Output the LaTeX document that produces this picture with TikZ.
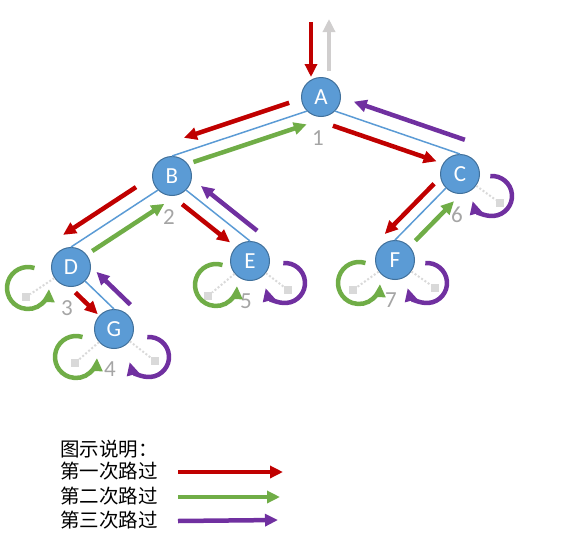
\documentclass[tikz,border=0pt]{standalone}
\usepackage{fontspec}
\usetikzlibrary{arrows.meta,calc,positioning}
\newfontfamily\calibri{Carlito}
\newfontfamily\cjk{Noto Sans CJK SC}
\definecolor{nodeblue}{HTML}{5B9BD5}
\definecolor{nodeline}{HTML}{41719C}
\definecolor{passred}{HTML}{C00000}
\definecolor{passgreen}{HTML}{70AD47}
\definecolor{passpurple}{HTML}{7030A0}
\definecolor{exitgray}{HTML}{D0CECE}
\definecolor{nullgray}{HTML}{D9D9D9}
\definecolor{numgray}{HTML}{A5A5A5}
\begin{document}
\begin{tikzpicture}[x=1pt,y=-1pt,
    vertex/.style={circle,fill=nodeblue,draw=nodeline,line width=1pt,
      minimum size=39pt,inner sep=0pt,text=white,
      font=\calibri\fontsize{23}{23}\selectfont},
    num/.style={inner sep=0pt,text=numgray,font=\calibri\fontsize{23}{23}\selectfont},
    nullbox/.style={fill=nullgray,minimum size=8pt,inner sep=0pt},
    nulledge/.style={nullgray,line width=2pt,dotted},
    pass/.style={line width=4.5pt,-{Triangle[length=13pt,width=12pt]}},
    firstpass/.style={pass,passred},
    secondpass/.style={pass,passgreen},
    thirdpass/.style={pass,passpurple},
    exitpass/.style={pass,exitgray},
    legend/.style={inner sep=0pt,anchor=west,font=\cjk\fontsize{19.5}{19.5}\selectfont}]
  \useasboundingbox (0,0) rectangle (576,544);
  \path
    (321,97) node[vertex] (A) {A}
    (172,176) node[vertex] (B) {B}
    (460,174) node[vertex] (C) {C}
    (71,267) node[vertex] (D) {D}
    (250,261) node[vertex] (E) {E}
    (395,260) node[vertex] (F) {F}
    (114,329) node[vertex] (G) {G};
  \begin{scope}[nodeblue,line width=1.5pt]
    \draw (A.south west) to (B.north);
    \draw (A.south east) to (C.north);
    \draw (B.south west) to (D.north);
    \draw (B.south east) to (E.north);
    \draw (D.south east) to (G.north);
    \draw (C.south west) to (F.north);
  \end{scope}
  % visiting order
  \node[num,below=13pt of A,xshift=-3pt] (n1) {1};
  \node[num,below=13pt of B,xshift=-3pt] (n2) {2};
  \node[num,below=13pt of D,xshift=-4pt] (n3) {3};
  \node[num,below=13pt of G,xshift=-4pt] (n4) {4};
  \node[num,below=13pt of E,xshift=-4pt] (n5) {5};
  \node[num,below=13pt of C,xshift=-3pt] (n6) {6};
  \node[num,below=13pt of F,xshift=-4pt] (n7) {7};
  % empty children
  \node[nullbox] (D-l) at ($(D)+(-45,30)$) {};
  \node[nullbox] (G-l) at ($(G)+(-39,34)$) {};
  \node[nullbox] (G-r) at ($(G)+(41,32)$) {};
  \node[nullbox] (E-l) at ($(E)+(-42,35)$) {};
  \node[nullbox] (E-r) at ($(E)+(38,29)$) {};
  \node[nullbox] (C-r) at ($(C)+(40,29)$) {};
  \node[nullbox] (F-l) at ($(F)+(-42,30)$) {};
  \node[nullbox] (F-r) at ($(F)+(40,28)$) {};
  \begin{scope}[nulledge]
    \draw (D) to (D-l);
    \draw (G) to (G-l);
    \draw (G) to (G-r);
    \draw (E) to (E-l);
    \draw (E) to (E-r);
    \draw (C) to (C-r);
    \draw (F) to (F-l);
    \draw (F) to (F-r);
  \end{scope}
  % in and out of the root
  \coordinate (in) at (311,22);
  \coordinate (out) at (329,19);
  \draw[firstpass] (in) -- (in |- A.north);
  \draw[exitpass] ([yshift=6pt]A.north -| out) -- (out);
  % first pass
  \begin{scope}[firstpass]
    \draw ($(A.south west)!.10!(B.north)!13.5pt!90:(A.south west)$) -- ($(A.south west)!.88!(B.north)!13.5pt!90:(A.south west)$);
    \draw ($(A.south east)!.02!(C.north)!14.5pt!90:(A.south east)$) -- ($(A.south east)!.85!(C.north)!14.5pt!90:(A.south east)$);
    \draw ($(B.south west)!.16!(D.north)!14.5pt!90:(B.south west)$) -- ($(B.south west)!1!(D.north)!14.5pt!90:(B.south west)$);
    \draw ($(B.south east)!.07!(E.north)!13.5pt!90:(B.south east)$) -- ($(B.south east)!.82!(E.north)!13.5pt!90:(B.south east)$);
    \draw ($(D.south east)!.02!(G.north)!15pt!90:(D.south east)$) -- ($(D.south east)!.80!(G.north)!15pt!90:(D.south east)$);
    \draw ($(C.south west)!.07!(F.north)!11.5pt!90:(C.south west)$) -- ($(C.south west)!1.04!(F.north)!11.5pt!90:(C.south west)$);
  \end{scope}
  % second pass
  \begin{scope}[secondpass]
    \draw ($(A.south west)!.87!(B.north)!12.5pt!-90:(A.south west)$) -- ($(A.south west)!.03!(B.north)!12.5pt!-90:(A.south west)$);
    \draw ($(B.south west)!.85!(D.north)!15pt!-90:(B.south west)$) -- ($(B.south west)!.02!(D.north)!15pt!-90:(B.south west)$);
    \draw ($(C.south west)!.81!(F.north)!15pt!-90:(C.south west)$) -- ($(C.south west)!.05!(F.north)!15pt!-90:(C.south west)$);
    \draw ($(D)+(-43,21)$) ++(-72:21) arc[start angle=-72,end angle=-357,radius=21];
    \draw ($(G)+(-38,28)$) ++(-72:21) arc[start angle=-72,end angle=-357,radius=21];
    \draw ($(E)+(-34,24)$) ++(-72:21) arc[start angle=-72,end angle=-357,radius=21];
    \draw ($(F)+(-36,23)$) ++(-72:21) arc[start angle=-72,end angle=-357,radius=21];
  \end{scope}
  % third pass
  \begin{scope}[thirdpass]
    \draw ($(A.south east)!1!(C.north)!15pt!-90:(A.south east)$) -- ($(A.south east)!.11!(C.north)!15pt!-90:(A.south east)$);
    \draw ($(B.south east)!.99!(E.north)!12.5pt!-90:(B.south east)$) -- ($(B.south east)!.11!(E.north)!12.5pt!-90:(B.south east)$);
    \draw ($(D.south east)!1.22!(G.north)!14.5pt!-90:(D.south east)$) -- ($(D.south east)!.04!(G.north)!14.5pt!-90:(D.south east)$);
    \draw ($(G)+(35,28)$) ++(-95:20) arc[start angle=-95,end angle=165,radius=20];
    \draw ($(E)+(35,22)$) ++(-95:20) arc[start angle=-95,end angle=165,radius=20];
    \draw ($(C)+(32,22)$) ++(-95:20) arc[start angle=-95,end angle=165,radius=20];
    \draw ($(F)+(32,23)$) ++(-95:20) arc[start angle=-95,end angle=165,radius=20];
  \end{scope}
  % legend
  \node[legend] (key) at (60,449) {图示说明：};
  \node[legend] (k1) at (60,471) {第一次路过};
  \node[legend] (k2) at (60,496) {第二次路过};
  \node[legend] (k3) at (60,520) {第三次路过};
  \coordinate (a1) at (178,472);
  \coordinate (b1) at (283,472);
  \coordinate (a2) at (178,497);
  \coordinate (b2) at (280,497);
  \coordinate (a3) at (178,521);
  \coordinate (b3) at (278,520);
  \draw[firstpass] (a1) -- (b1);
  \draw[secondpass] (a2) -- (b2);
  \draw[thirdpass] (a3) -- (b3);
\end{tikzpicture}
\end{document}
